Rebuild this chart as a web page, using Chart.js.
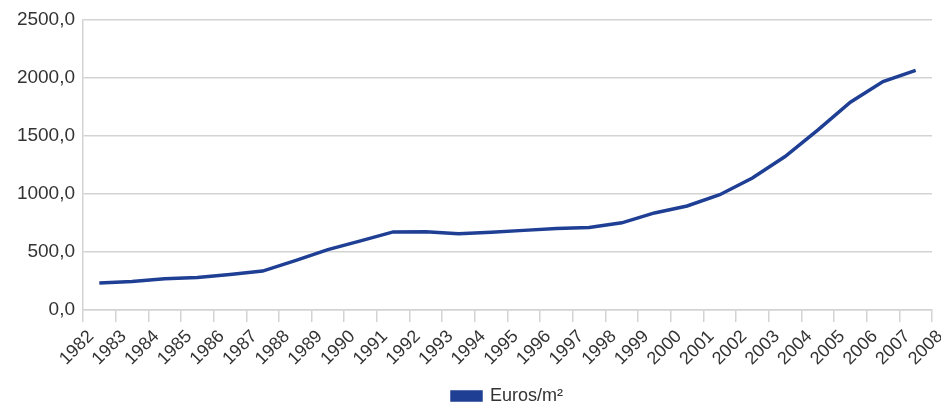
<!DOCTYPE html>
<html>
<head>
<meta charset="utf-8">
<script src="https://cdn.jsdelivr.net/npm/chart.js@4/dist/chart.umd.min.js"></script>
<style>
  html, body { margin: 0; padding: 0; background: #ffffff; }
  #wrap { width: 941px; height: 403px; position: relative; }
</style>
</head>
<body>
<div id="wrap"><canvas id="chart"></canvas></div>
<script>
// Average price per square metre, one value per year (plotted mid-year)
const years = [1982, 1983, 1984, 1985, 1986, 1987, 1988, 1989, 1990, 1991, 1992, 1993, 1994,
               1995, 1996, 1997, 1998, 1999, 2000, 2001, 2002, 2003, 2004, 2005, 2006, 2007];
const pricePerM2 = [233, 245, 268, 280, 305, 335, 425, 520, 595, 672, 673, 655, 668,
                    685, 702, 710, 750, 835, 895, 992, 1135, 1320, 1548, 1788, 1965, 2062];
// Year boundaries labelled along the horizontal axis
const tickYears = [1982, 1983, 1984, 1985, 1986, 1987, 1988, 1989, 1990, 1991, 1992, 1993, 1994,
                   1995, 1996, 1997, 1998, 1999, 2000, 2001, 2002, 2003, 2004, 2005, 2006, 2007, 2008];
const yTicks = [0, 500, 1000, 1500, 2000, 2500];
const seriesLabel = 'Euros/m\u00B2';

const lineColor = '#1f3f94';
const gridColor = '#d3d3d3';
const textColor = '#333333';
const fontFamily = '"Liberation Sans", Arial, Helvetica, sans-serif';

const points = years.map((y, i) => ({ x: y + 0.5, y: pricePerM2[i] }));

new Chart(document.getElementById('chart'), {
  type: 'line',
  data: {
    datasets: [{
      label: seriesLabel,
      data: points,
      borderColor: lineColor,
      backgroundColor: lineColor,
      borderWidth: 3.5,
      pointRadius: 0,
      pointHoverRadius: 0,
      tension: 0,
      fill: false
    }]
  },
  options: {
    responsive: true,
    maintainAspectRatio: false,
    animation: false,
    layout: { padding: { top: 17, right: 9, left: 0, bottom: -12 } },
    scales: {
      x: {
        type: 'linear',
        min: tickYears[0],
        max: tickYears[tickYears.length - 1],
        afterBuildTicks: (scale) => { scale.ticks = tickYears.map(v => ({ value: v })); },
        afterFit: (scale) => {
          scale.height = 77;
          scale.paddingLeft = 0;
          scale.paddingRight = 0;
        },
        grid: {
          drawOnChartArea: false,
          drawTicks: true,
          tickLength: 12,
          color: gridColor,
          lineWidth: 1.5
        },
        border: { display: true, color: gridColor, width: 1.5 },
        ticks: {
          autoSkip: false,
          maxRotation: 45,
          minRotation: 45,
          padding: 4,
          labelOffset: 8,
          color: textColor,
          font: { family: fontFamily, size: 18 },
          callback: (v) => String(v)
        }
      },
      y: {
        min: yTicks[0],
        max: yTicks[yTicks.length - 1],
        afterBuildTicks: (scale) => { scale.ticks = yTicks.map(v => ({ value: v })); },
        afterFit: (scale) => { scale.width = 83; },
        grid: {
          drawTicks: false,
          color: gridColor,
          lineWidth: 1.5
        },
        border: { display: true, color: gridColor, width: 1.5 },
        ticks: {
          padding: 8,
          color: textColor,
          font: { family: fontFamily, size: 19 },
          callback: (v) => v.toFixed(1).replace('.', ',')
        }
      }
    },
    plugins: {
      legend: {
        position: 'bottom',
        fullSize: false,
        labels: {
          boxWidth: 29,
          boxHeight: 8,
          padding: 0,
          color: textColor,
          font: { family: fontFamily, size: 18 }
        }
      },
      tooltip: { enabled: false }
    }
  }
});
</script>
</body>
</html>
